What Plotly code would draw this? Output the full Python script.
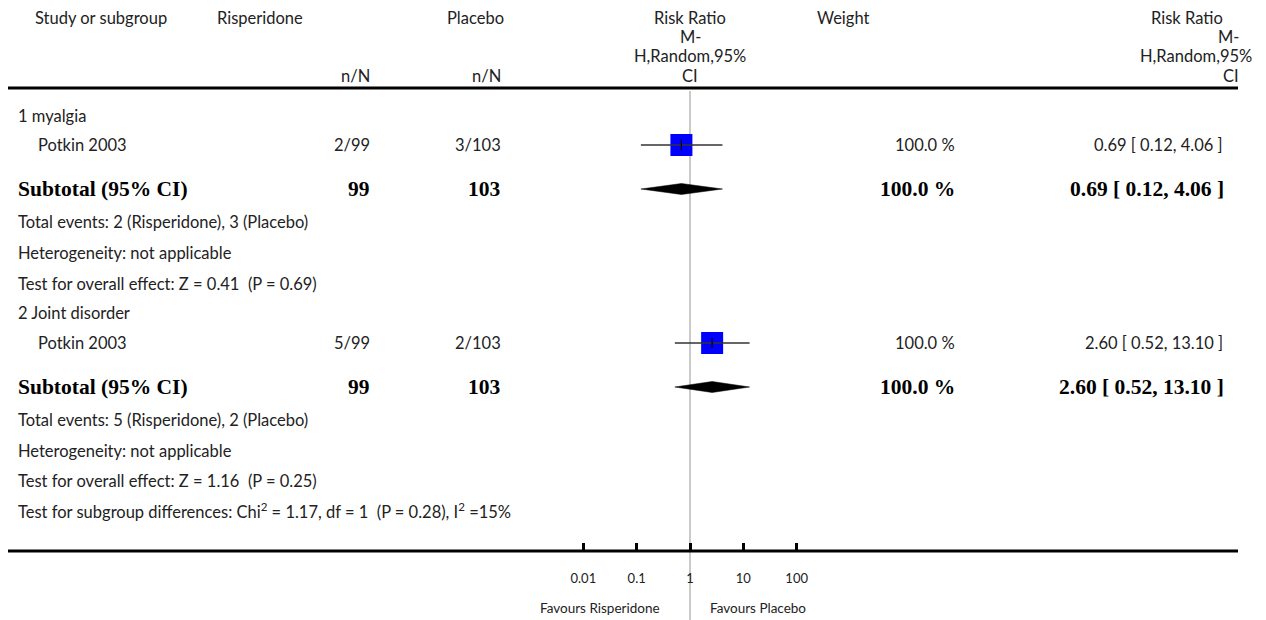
import plotly.graph_objects as go

# ---------------- data ----------------
groups = ["1 myalgia", "2 Joint disorder"]
study_names = ["Potkin 2003", "Potkin 2003"]
risp_events = [2, 5]
risp_total = [99, 99]
plac_events = [3, 2]
plac_total = [103, 103]
rr = [0.69, 2.60]
rr_lo = [0.12, 0.52]
rr_hi = [4.06, 13.10]
weights = [100.0, 100.0]
sub_rr = [0.69, 2.60]
sub_lo = [0.12, 0.52]
sub_hi = [4.06, 13.10]
z_values = [0.41, 1.16]
p_values = [0.69, 0.25]
chi2, chi_df, chi_p, i2 = 1.17, 1, 0.28, 15
tick_vals = [0.01, 0.1, 1, 10, 100]
tick_labels = ["0.01", "0.1", "1", "10", "100"]
label_left, label_right = "Favours Risperidone", "Favours Placebo"

# ---------------- layout constants (pixels) ----------------
W, H = 1266, 620
group_rows = [
    dict(label=116, study=145, sub=189, tot=222, het=253, ove=284),
    dict(label=313, study=343, sub=387, tot=420, het=451, ove=481),
]
row_subdiff = 511
hdr_y = [18, 37, 56, 76]
hdr_line_y = 88
axis_y = 551
fav_y = 608

X_LABEL = 16
X_STUDY = 36
X_RISP = 372
X_PLAC = 503
X_WEIGHT = 957
X_CI = 1225

SANS = "Lato"
SERIF = "Liberation Serif"
TXT = "#222222"
NS = 16.5
BS = 21.5
DEC_PX = 53.33          # pixels per decade on the log axis
X_ONE = 690             # pixel position of RR = 1


def px(x):
    return x / W


annotations = []


def add_text(x, y, text, anchor="left", size=NS, family=SANS, bold=False):
    annotations.append(dict(
        x=px(x), y=y, xref="paper", yref="y", text=text, showarrow=False,
        xanchor=anchor, yanchor="middle",
        font=dict(family=family, size=size, color="black" if bold else TXT,
                  weight="bold" if bold else "normal"),
    ))


# headers
add_text(33, hdr_y[0], "Study or subgroup")
add_text(260, hdr_y[0], "Risperidone", "center")
add_text(475, hdr_y[0], "Placebo", "center")
add_text(X_RISP, hdr_y[3], "n/N", "right")
add_text(X_PLAC, hdr_y[3], "n/N", "right")
for t, y in zip(["Risk Ratio", "M-", "H,Random,95%", "CI"], hdr_y):
    add_text(X_ONE, y, t, "center")
add_text(843, hdr_y[0], "Weight", "center")
for t, y, xr in zip(["Risk Ratio", "M-", "H,Random,95%", "CI"], hdr_y,
                    [1225, 1241, 1254, 1241]):
    add_text(xr, y, t, "right")

fig = go.Figure()

for i, g in enumerate(groups):
    r = group_rows[i]
    add_text(X_LABEL, r["label"], g)
    add_text(X_STUDY, r["study"], study_names[i])
    add_text(X_RISP, r["study"], f"{risp_events[i]}/{risp_total[i]}", "right")
    add_text(X_PLAC, r["study"], f"{plac_events[i]}/{plac_total[i]}", "right")
    add_text(X_WEIGHT, r["study"], f"{weights[i]:.1f} %", "right")
    add_text(X_CI, r["study"], f"{rr[i]:.2f} [ {rr_lo[i]:.2f}, {rr_hi[i]:.2f} ]", "right")
    add_text(X_LABEL, r["sub"], "Subtotal (95% CI)", size=BS, family=SERIF, bold=True)
    add_text(X_RISP, r["sub"], f"{risp_total[i]}", "right", size=BS, family=SERIF, bold=True)
    add_text(X_PLAC, r["sub"], f"{plac_total[i]}", "right", size=BS, family=SERIF, bold=True)
    add_text(X_WEIGHT, r["sub"], f"{weights[i]:.1f} %", "right", size=BS, family=SERIF, bold=True)
    add_text(X_CI + 1, r["sub"], f"{sub_rr[i]:.2f} [ {sub_lo[i]:.2f}, {sub_hi[i]:.2f} ]", "right",
             size=BS, family=SERIF, bold=True)
    add_text(X_LABEL, r["tot"],
             f"Total events: {risp_events[i]} (Risperidone), {plac_events[i]} (Placebo)")
    add_text(X_LABEL, r["het"], "Heterogeneity: not applicable")
    add_text(X_LABEL, r["ove"],
             f"Test for overall effect: Z = {z_values[i]:.2f}  (P = {p_values[i]:.2f})")

add_text(X_LABEL, row_subdiff,
         f"Test for subgroup differences: Chi<sup>2</sup> = {chi2:.2f}, df = {chi_df}  "
         f"(P = {chi_p:.2f}), I<sup>2</sup> ={i2}%")

annotations.append(dict(x=0, y=fav_y, xref="x", yref="y", text=label_left, showarrow=False,
                        xanchor="right", yanchor="middle", xshift=-28,
                        font=dict(family=SANS, size=13.5, color=TXT)))
annotations.append(dict(x=0, y=fav_y, xref="x", yref="y", text=label_right, showarrow=False,
                        xanchor="left", yanchor="middle", xshift=18,
                        font=dict(family=SANS, size=13.5, color=TXT)))

# ---------------- marks ----------------
study_y = [r["study"] for r in group_rows]
sub_y = [r["sub"] for r in group_rows]

fig.add_trace(go.Scatter(x=rr, y=study_y, mode="markers",
                         marker=dict(symbol="square", size=22, color="#0000ff",
                                     line=dict(width=0)),
                         hoverinfo="skip", showlegend=False))
ci_x, ci_y = [], []
for i in range(len(rr)):
    ci_x += [rr_lo[i], rr_hi[i], None]
    ci_y += [study_y[i], study_y[i], None]
fig.add_trace(go.Scatter(x=ci_x, y=ci_y, mode="lines",
                         line=dict(color="#333333", width=1.6),
                         hoverinfo="skip", showlegend=False))
fig.add_trace(go.Scatter(x=rr, y=study_y, mode="markers",
                         marker=dict(symbol="line-ns", size=7,
                                     line=dict(width=1.2, color="black")),
                         hoverinfo="skip", showlegend=False))
for i in range(len(sub_rr)):
    y = sub_y[i]
    fig.add_trace(go.Scatter(
        x=[sub_lo[i], sub_rr[i], sub_hi[i], sub_rr[i], sub_lo[i]],
        y=[y, y - 5.5, y, y + 5.5, y],
        mode="lines", fill="toself", fillcolor="black",
        line=dict(color="black", width=0.5),
        hoverinfo="skip", showlegend=False))

# ---------------- shapes ----------------
shapes = [
    dict(type="line", xref="x", yref="y", x0=1, x1=1, y0=hdr_line_y + 3, y1=H,
         line=dict(color="#b8b8b8", width=1.5), layer="below"),
    dict(type="line", xref="paper", yref="y", x0=px(8), x1=px(1238),
         y0=hdr_line_y, y1=hdr_line_y, line=dict(color="black", width=3)),
    dict(type="line", xref="paper", yref="y", x0=px(8), x1=px(1238),
         y0=axis_y, y1=axis_y, line=dict(color="black", width=3)),
]

half = 3
fig.update_layout(
    width=W, height=H, margin=dict(l=0, r=0, t=0, b=0, pad=0),
    paper_bgcolor="white", plot_bgcolor="rgba(0,0,0,0)",
    annotations=annotations, shapes=shapes, showlegend=False,
    xaxis=dict(type="log", range=[-half, half],
               domain=[(X_ONE - half * DEC_PX) / W, (X_ONE + half * DEC_PX) / W],
               anchor="free", position=(H - axis_y) / H,
               tickmode="array", tickvals=tick_vals, ticktext=tick_labels,
               ticks="inside", ticklen=8, tickwidth=3, tickcolor="black",
               showline=False, showgrid=False, zeroline=False,
               ticklabelstandoff=18,
               tickfont=dict(family=SANS, size=13, color=TXT),
               fixedrange=True),
    yaxis=dict(range=[H, 0], domain=[0, 1], visible=False, fixedrange=True),
)

fig.write_html(
    "out.html",
    config={"displayModeBar": False, "staticPlot": True},
    post_script="document.body.style.margin='0px';document.body.style.overflow='hidden';",
)
